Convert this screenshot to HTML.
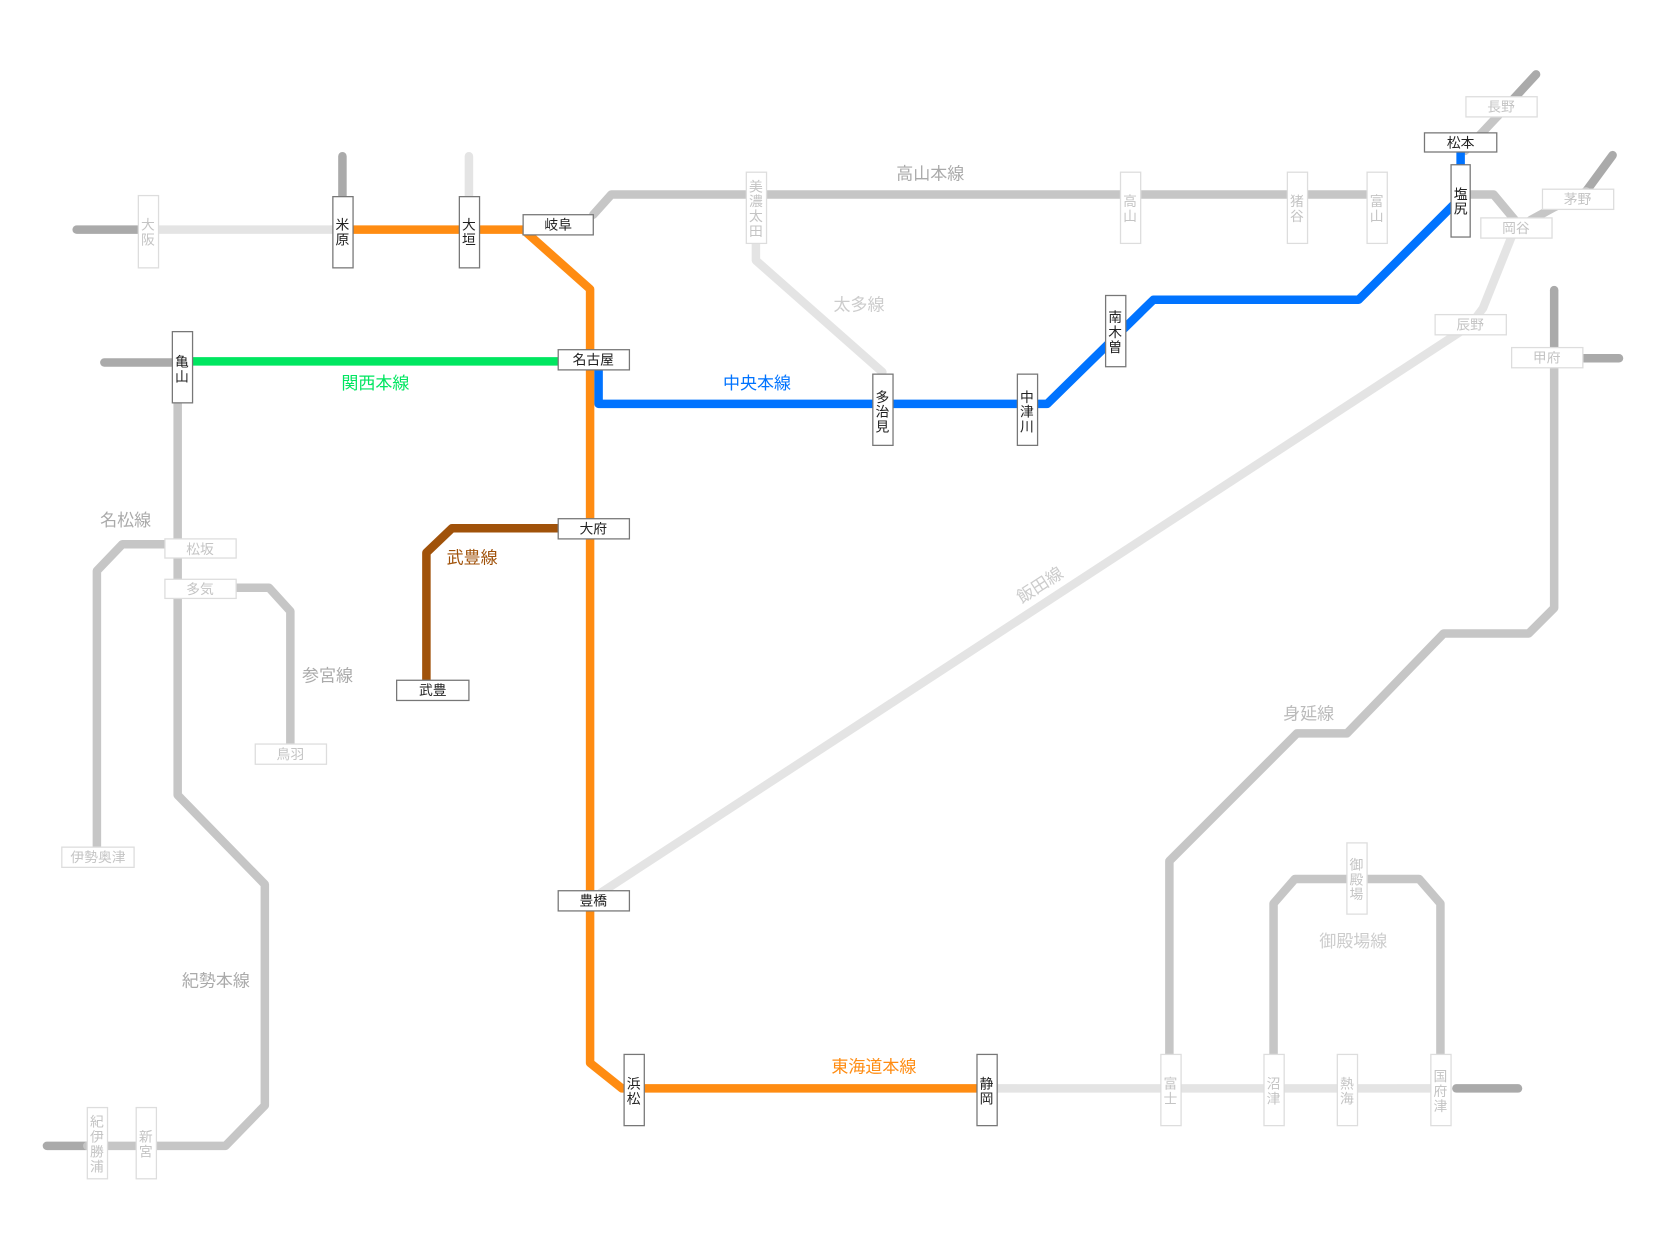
<!DOCTYPE html>
<html><head><meta charset="utf-8"><style>
html,body{margin:0;padding:0;background:#fff;}
svg{display:block}
text{font-family:"Liberation Sans","Noto Sans CJK JP",sans-serif;}
.a rect{fill:#fff;stroke:#777;stroke-width:1.2}
.a text{fill:#222;font-size:13px}
.i rect{fill:#fff;stroke:#ddd;stroke-width:1.2}
.i text{fill:#c4c4c4;font-size:13px}
.l{fill:none;stroke-width:8;stroke-linejoin:round;stroke-linecap:round}
</style></head><body>
<svg width="1667" height="1250" viewBox="0 0 1568 1176" xmlns="http://www.w3.org/2000/svg">
<!-- dark stubs -->
<g class="l" stroke="#aaa">
<path d="M72 216H130"/><path d="M322 147V185"/><path d="M98 341H162"/>
<path d="M1445 70L1410 108"/><path d="M1517 146L1492 180"/>
<path d="M1462 273V327"/><path d="M1490 337H1523"/>
<path d="M1370 1024H1428"/><path d="M44 1078H82"/>
</g>
<!-- light lines -->
<g class="l" stroke="#e4e4e4">
<path d="M441 147V185"/><path d="M149 216H313"/>
<path d="M711 230V245L830 350"/>
<path d="M1425 215L1395 290L1383 306L565 840"/>
<path d="M938 1024H1346"/>
</g>
<!-- mid gray lines -->
<g class="l" stroke="#c6c6c6">
<path d="M558 202L575 183H1295"/>
<path d="M1383 183H1405L1425 207"/>
<path d="M1410 108L1378 142"/>
<path d="M1492 180L1462 195L1440 207"/>
<path d="M1462 346V572L1438 596H1358L1267 690H1220L1100 810V1000"/>
<path d="M1198 1000V850L1218 827H1335L1355 850V1000"/>
<path d="M167 375V748L249 832V1040L212 1078H82"/>
<path d="M91 800V537L115 512H160"/>
<path d="M220 553H253L273 575V700"/>
</g>
<!-- colored lines -->
<path class="l" stroke="#ff8c12" stroke-linecap="butt" d="M322 216H492L555 272V1000L585 1024H928"/>
<path class="l" stroke="#00e660" stroke-linecap="butt" d="M172 340H525"/>
<path class="l" stroke="#0073ff" stroke-linecap="butt" d="M1374 140V160"/>
<path class="l" stroke="#0073ff" stroke-linecap="butt" d="M563 345V380H985L1085 282H1278L1367 193"/>
<path class="l" stroke="#a0520a" stroke-linecap="butt" d="M525 497H425L401 520V640"/>
<!-- line labels -->
<g font-size="16" text-anchor="middle">
<text x="875" y="169" fill="#aaa">高山本線</text>
<text x="808" y="292" fill="#ccc">太多線</text>
<text x="712" y="366" fill="#0073ff">中央本線</text>
<text x="353" y="366" fill="#00e660">関西本線</text>
<text x="444" y="530" fill="#a0520a">武豊線</text>
<text x="978" y="556" fill="#ccc" transform="rotate(-33 978 550)">飯田線</text>
<text x="1231" y="677" fill="#bbb">身延線</text>
<text x="1273" y="891" fill="#ccc">御殿場線</text>
<text x="822" y="1009" fill="#ff8c12">東海道本線</text>
<text x="118" y="495" fill="#aaa">名松線</text>
<text x="308" y="641" fill="#aaa">参宮線</text>
<text x="203" y="928" fill="#aaa">紀勢本線</text>
</g>
<!-- active stations -->
<g class="a" text-anchor="middle">
<rect x="492" y="202" width="66" height="19"/><text x="525" y="216">岐阜</text>
<rect x="525" y="329" width="67" height="19"/><text x="558" y="343">名古屋</text>
<rect x="525" y="488" width="67" height="19"/><text x="558" y="502">大府</text>
<rect x="373" y="640" width="68" height="19"/><text x="407" y="654">武豊</text>
<rect x="525" y="838" width="67" height="19"/><text x="558" y="852">豊橋</text>
<rect x="1340" y="125" width="68" height="18"/><text x="1374" y="139">松本</text>
<rect x="313" y="185" width="19" height="67"/><text x="322" y="216">米</text><text x="322" y="230">原</text>
<rect x="432" y="185" width="19" height="67"/><text x="441" y="216">大</text><text x="441" y="230">垣</text>
<rect x="162" y="312" width="19" height="67"/><text x="171" y="345">亀</text><text x="171" y="359">山</text>
<rect x="587" y="992" width="19" height="67"/><text x="596" y="1024">浜</text><text x="596" y="1038">松</text>
<rect x="919" y="992" width="19" height="67"/><text x="928" y="1024">静</text><text x="928" y="1038">岡</text>
<rect x="821" y="352" width="19" height="67"/><text x="830" y="378">多</text><text x="830" y="392">治</text><text x="830" y="406">見</text>
<rect x="957" y="352" width="19" height="67"/><text x="966" y="378">中</text><text x="966" y="392">津</text><text x="966" y="406">川</text>
<rect x="1040" y="278" width="19" height="67"/><text x="1049" y="303">南</text><text x="1049" y="317">木</text><text x="1049" y="331">曽</text>
<rect x="1365" y="155" width="18" height="68"/><text x="1374" y="187">塩</text><text x="1374" y="201">尻</text>
</g>
<!-- inactive stations -->
<g class="i" text-anchor="middle">
<rect x="1379" y="91" width="67" height="19"/><text x="1412" y="105">長野</text>
<rect x="1451" y="178" width="67" height="19"/><text x="1484" y="192">茅野</text>
<rect x="1393" y="205" width="67" height="19"/><text x="1426" y="219">岡谷</text>
<rect x="1350" y="296" width="67" height="19"/><text x="1383" y="310">辰野</text>
<rect x="1422" y="327" width="67" height="19"/><text x="1455" y="341">甲府</text>
<rect x="155" y="507" width="67" height="18"/><text x="188" y="521">松坂</text>
<rect x="155" y="545" width="67" height="18"/><text x="188" y="559">多気</text>
<rect x="240" y="700" width="67" height="19"/><text x="273" y="714">鳥羽</text>
<rect x="58" y="797" width="68" height="19"/><text x="92" y="811">伊勢奥津</text>
<rect x="130" y="184" width="19" height="68"/><text x="139" y="216">大</text><text x="139" y="230">阪</text>
<rect x="702" y="162" width="19" height="67"/><text x="711" y="180">美</text><text x="711" y="194">濃</text><text x="711" y="208">太</text><text x="711" y="222">田</text>
<rect x="1054" y="162" width="19" height="67"/><text x="1063" y="194">高</text><text x="1063" y="208">山</text>
<rect x="1211" y="162" width="19" height="67"/><text x="1220" y="194">猪</text><text x="1220" y="208">谷</text>
<rect x="1286" y="162" width="19" height="67"/><text x="1295" y="194">富</text><text x="1295" y="208">山</text>
<rect x="82" y="1042" width="19" height="67"/><text x="91" y="1060">紀</text><text x="91" y="1074">伊</text><text x="91" y="1088">勝</text><text x="91" y="1102">浦</text>
<rect x="128" y="1042" width="19" height="67"/><text x="137" y="1074">新</text><text x="137" y="1088">宮</text>
<rect x="1092" y="992" width="19" height="67"/><text x="1101" y="1024">富</text><text x="1101" y="1038">士</text>
<rect x="1189" y="992" width="19" height="67"/><text x="1198" y="1024">沼</text><text x="1198" y="1038">津</text>
<rect x="1258" y="992" width="19" height="67"/><text x="1267" y="1024">熱</text><text x="1267" y="1038">海</text>
<rect x="1346" y="992" width="19" height="67"/><text x="1355" y="1017">国</text><text x="1355" y="1031">府</text><text x="1355" y="1045">津</text>
<rect x="1267" y="793" width="19" height="67"/><text x="1276" y="818">御</text><text x="1276" y="832">殿</text><text x="1276" y="846">場</text>
</g>
</svg>
</body></html>
